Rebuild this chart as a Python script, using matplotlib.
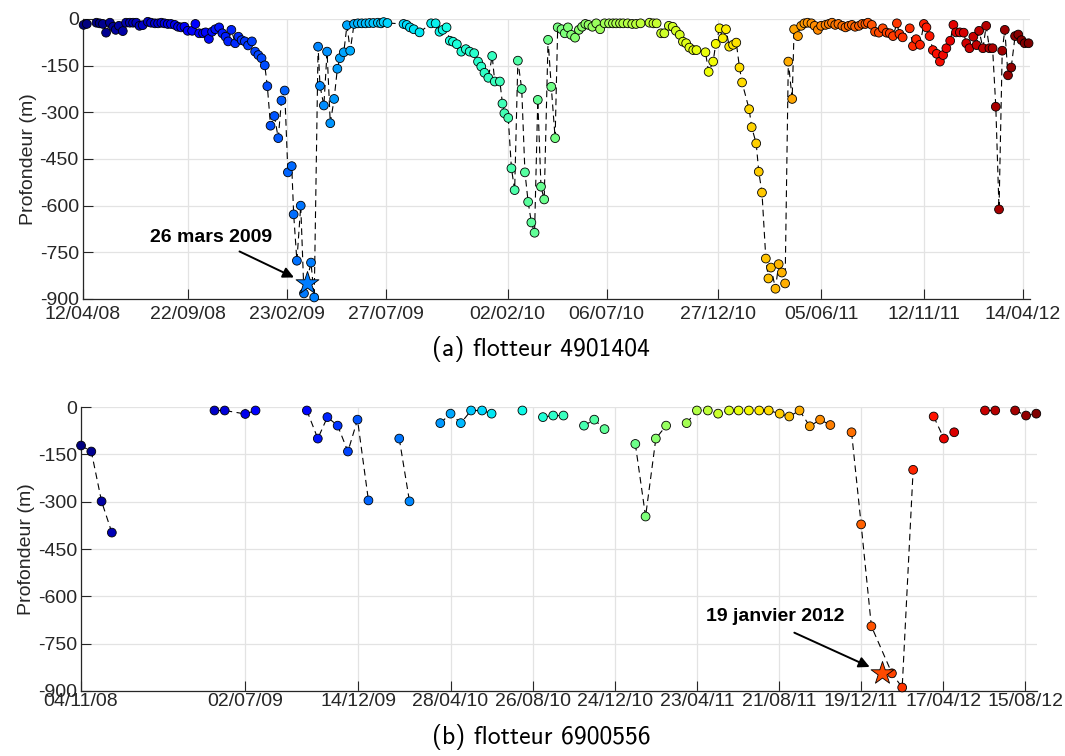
import os
import numpy as np
import pandas as pd
import matplotlib
matplotlib.use('Agg')
import matplotlib.pyplot as plt
import matplotlib.dates as mdates
from matplotlib import font_manager as fm

plt.rcParams['font.family'] = ['Liberation Sans', 'DejaVu Sans']
plt.rcParams['axes.unicode_minus'] = False

# police sans-serif type LaTeX pour les legendes (a) et (b)
cmss = fm.FontProperties(fname=os.path.join(matplotlib.get_data_path(), 'fonts', 'ttf', 'cmss10.ttf'),
                         size=18.5)

# Flotteur 4901404 : jours depuis le 12/04/08, profondeur (m)
debut_a = '2008-04-12'
jours_a = [1, 6, 21, 26, 31, 36, 42, 47, 51, 56, 62, 67, 73, 78, 83, 88, 93, 101, 106, 112,
           117, 122, 127, 132, 137, 143, 148, 153, 158, 163, 170, 175, 181, 187, 191, 196, 201, 206, 212, 217,
           222, 226, 231, 237, 242, 247, 252, 257, 263, 268, 273, 278, 283, 287, 292, 298, 304, 309, 314, 319,
           325, 328, 333, 339, 344, 355, 360, 366, 369, 375, 380, 385, 391, 396, 400, 406, 411, 416,
           422, 428, 434, 440, 446, 452, 459, 464, 468, 474, 499, 504, 509, 515, 524, 542, 549,
           555, 560, 566, 571, 576, 582, 589, 596, 602, 609, 615, 620, 625, 631, 637, 641, 649,
           653, 656, 662, 667, 672, 677, 683, 688, 693, 698, 703, 708, 713, 718, 724, 729, 735,
           739, 745, 750, 755, 760, 766, 772, 777, 782, 787, 793, 799, 805, 812, 819, 825, 830, 836, 841, 848, 855, 861, 868,
           882, 888, 893, 900, 905, 912, 918, 923, 929, 934, 939, 944, 950, 955, 969, 974,
           981, 985, 991, 996, 1001, 1006, 1012, 1017, 1022, 1026, 1037, 1041, 1048, 1052, 1057,
           1063, 1067, 1071, 1078, 1083, 1088, 1093, 1098, 1104,
           1107, 1113, 1118, 1123, 1128, 1134, 1139, 1144, 1149, 1156, 1161, 1166, 1171, 1176, 1182, 1187, 1192, 1197,
           1202, 1208, 1213, 1218, 1222, 1228, 1233, 1239, 1245, 1251, 1256, 1261, 1267, 1271, 1276,
           1287, 1292, 1297, 1303, 1309, 1313, 1318, 1323, 1329, 1334, 1339, 1344, 1350, 1355, 1359, 1365, 1371,
           1375, 1380, 1386, 1391, 1395, 1401, 1406, 1411, 1416, 1421, 1426, 1431, 1435, 1440, 1445, 1451, 1456,
           1461, 1466, 1472]
prof_a = [-19, -16, -12, -14, -16, -44, -12, -25, -35, -22, -39, -12, -12, -12, -12, -22, -20, -9, -12, -14,
          -14, -12, -14, -16, -16, -19, -25, -27, -25, -38, -38, -16, -46, -46, -43, -64, -41, -33, -27, -46,
          -57, -72, -35, -78, -57, -68, -72, -85, -72, -105, -116, -126, -149, -216, -343, -312, -383, -262, -230, -493,
          -473, -628, -777, -600, -882, -783, -895, -89, -215, -278, -105, -335, -257, -160, -126, -107, -20, -102,
          -16, -14, -14, -14, -13, -13, -12, -14, -10, -13, -16, -19, -27, -33, -43, -14, -14,
          -41, -35, -27, -70, -73, -81, -105, -97, -105, -110, -137, -153, -173, -189, -119, -201, -201,
          -272, -303, -318, -480, -550, -134, -225, -493, -588, -654, -687, -260, -539, -580, -67, -218, -383,
          -27, -33, -46, -27, -51, -60, -35, -25, -16, -19, -25, -14, -33, -14, -14, -14, -14, -14, -14, -14, -16, -16, -14,
          -12, -14, -14, -46, -46, -22, -25, -38, -51, -73, -78, -92, -100, -100, -107, -170,
          -137, -80, -30, -62, -33, -89, -83, -76, -156, -204, -290, -348, -400, -491, -558,
          -770, -834, -799, -867, -788, -815, -850, -137, -257,
          -33, -55, -22, -14, -12, -14, -22, -35, -22, -19, -16, -12, -19, -16, -22, -27, -22, -19,
          -25, -22, -16, -16, -12, -19, -41, -44, -30, -44, -46, -55, -14, -48, -59,
          -30, -87, -65, -83, -16, -27, -55, -100, -112, -137, -116, -94, -70, -19, -43, -43, -44,
          -78, -94, -57, -84, -38, -94, -22, -94, -94, -282, -612, -102, -35, -181, -156, -55, -50,
          -68, -78, -78]
ticks_a = ['12/04/08', '22/09/08', '23/02/09', '27/07/09', '02/02/10', '06/07/10',
           '27/12/10', '05/06/11', '12/11/11', '14/04/12']
fin_a = 1474
etoile_a = ('2009-03-26', -850, '26 mars 2009')

# Flotteur 6900556 : jours depuis le 04/11/08
debut_b = '2008-11-04'
jours_b = [0, 15, 30, 45, 195, 210, 240, 255, 330, 346, 360, 375, 390, 404, 420, 465, 480,
           525, 540, 555, 570, 586, 600, 645, 675, 690, 705, 735, 750, 765, 810, 825, 840, 855,
           885, 900, 916, 931, 947, 961, 976, 991, 1005, 1021, 1035, 1050, 1065, 1080, 1095,
           1126, 1140, 1155, 1185, 1200, 1216, 1246, 1261, 1276, 1321, 1336, 1365, 1381, 1396]
prof_b = [-122, -141, -299, -398, -11, -11, -22, -11, -11, -100, -32, -59, -141, -40, -296, -100, -299,
          -51, -21, -51, -11, -11, -21, -11, -32, -27, -27, -59, -40, -70, -117, -347, -100, -59,
          -51, -11, -11, -21, -11, -11, -11, -11, -11, -21, -30, -11, -61, -40, -57,
          -80, -372, -695, -844, -889, -199, -30, -100, -80, -11, -11, -11, -27, -21]
# jours apres lesquels la ligne pointillee est interrompue
coupures_b = [45, 255, 420, 480, 600, 645, 705, 765, 855, 1095, 1216, 1276, 1336]
ticks_b = ['04/11/08', '02/07/09', '14/12/09', '28/04/10', '26/08/10', '24/12/10',
           '23/04/11', '21/08/11', '19/12/11', '17/04/12', '15/08/12']
fin_b = 1397
etoile_b = ('2012-01-19', -842, '19 janvier 2012')

gris = '#262626'


def trace(ax, debut, jours, prof, coupures, ticks, fin, etoile, off_txt, off_queue, pad_x):
    t0 = pd.Timestamp(debut)
    x = mdates.date2num(t0 + pd.to_timedelta(jours, unit='D'))
    y = np.array(prof, dtype=float)

    # ligne pointillee, coupee sur les trous de donnees
    xl, yl = [], []
    for j, xi, yi in zip(jours, x, y):
        xl.append(xi)
        yl.append(yi)
        if j in coupures:
            xl.append(np.nan)
            yl.append(np.nan)
    ax.plot(xl, yl, color='k', lw=0.8, linestyle=(0, (6, 4)), zorder=2, clip_on=False)

    # couleur selon le numero du cycle (colormap jet)
    idx = np.arange(len(x))
    norm = plt.Normalize(0, len(x) - 1)
    cmap = plt.get_cmap('jet')
    ax.scatter(x, y, c=idx, cmap=cmap, norm=norm, s=40, edgecolors='k',
               linewidths=0.6, zorder=3, clip_on=False)

    xe = mdates.date2num(pd.Timestamp(etoile[0]))
    ie = np.interp(xe, x, idx)
    ax.scatter([xe], [etoile[1]], marker='*', s=300, color=cmap(norm(ie)),
               edgecolors='k', linewidths=0.6, zorder=4, clip_on=False)
    ax.annotate('', xy=(xe, etoile[1]), xytext=off_queue, textcoords='offset pixels',
                arrowprops=dict(arrowstyle='-|>', color='k', lw=1.4, shrinkA=0,
                                shrinkB=10, mutation_scale=16))
    ax.annotate(etoile[2], xy=(xe, etoile[1]), xytext=off_txt, textcoords='offset pixels',
                ha='center', va='center', fontsize=14, fontweight='bold')

    tk = mdates.date2num(pd.to_datetime(ticks, format='%d/%m/%y'))
    ax.set_xticks(tk)
    ax.set_xticklabels(ticks)
    ax.set_xlim(mdates.date2num(t0), mdates.date2num(t0) + fin)
    ax.set_ylim(-900, 0)
    ax.set_yticks(np.arange(-900, 1, 150))
    ax.set_ylabel('Profondeur (m)', fontsize=14, color=gris, labelpad=2)

    for s in ['top', 'right']:
        ax.spines[s].set_visible(False)
    for s in ['left', 'bottom']:
        ax.spines[s].set_color(gris)
        ax.spines[s].set_linewidth(0.9)
    ax.tick_params(direction='in', length=7, width=0.8, color=gris,
                   labelsize=14, labelcolor=gris, pad=3)
    ax.tick_params(axis='x', pad=pad_x)
    ax.grid(True, color='#e3e3e3', lw=0.9)
    ax.set_axisbelow(True)


fig = plt.figure(figsize=(10.65, 7.56), dpi=100)
ax1 = fig.add_axes([0.0779, 0.6045, 0.8891, 0.3704])
ax2 = fig.add_axes([0.0761, 0.0860, 0.8976, 0.3756])

trace(ax1, debut_a, jours_a, prof_a, [], ticks_a, fin_a, etoile_a, (-95, 46), (-67, 32), 5)
trace(ax2, debut_b, jours_b, prof_b, coupures_b, ticks_b, fin_b, etoile_b, (-107, 56), (-88, 40), 1.5)

fig.text(0.508, 0.538, '(a) flotteur 4901404', ha='center', va='center', fontproperties=cmss)
fig.text(0.508, 0.025, '(b) flotteur 6900556', ha='center', va='center', fontproperties=cmss)

fig.savefig('out.png', dpi=100)
